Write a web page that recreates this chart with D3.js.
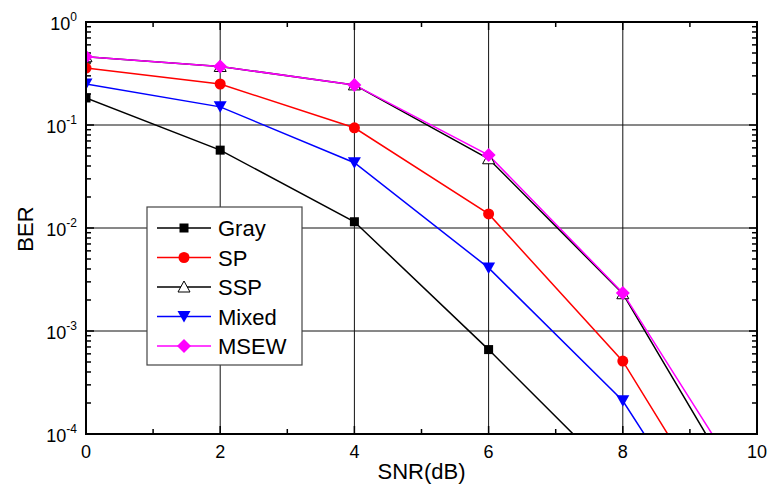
<!DOCTYPE html>
<html>
<head>
<meta charset="utf-8">
<script src="https://cdn.jsdelivr.net/npm/d3@7"></script>
<style>
  body { margin: 0; background: #fff; }
  text { font-family: "Liberation Sans", Arial, sans-serif; fill: #000; }
</style>
</head>
<body>
<div id="chart"></div>
<script>
// data
const snr = [0, 2, 4, 6, 8, 10];
const gray  = [0.183, 0.057, 0.0115, 0.00066, 0.000033];
const sp    = [0.357, 0.25, 0.094, 0.0137, 0.00051, 0.0000039];
const ssp   = [0.46, 0.37, 0.245, 0.047, 0.0023, 0.0000145];
const mixed = [0.25, 0.15, 0.043, 0.0041, 0.00021, 0.000002];
const msew  = [0.46, 0.37, 0.245, 0.051, 0.00234, 0.0000205];
const seriesNames = ["Gray", "SP", "SSP", "Mixed", "MSEW"];
const xTicks = [0, 2, 4, 6, 8, 10];
const yExps = [0, -1, -2, -3, -4];

const W = 768, H = 486;
const margin = {top: 22, right: 11, bottom: 52, left: 86};
const width = W - margin.left - margin.right,
  height = H - margin.top - margin.bottom;

const series = [
  {name: "Gray", vals: gray, color: "#000", sym: "square", fill: "#000"},
  {name: "SP", vals: sp, color: "#ff0000", sym: "circle", fill: "#ff0000"},
  {name: "SSP", vals: ssp, color: "#000", sym: "tri", fill: "#fff"},
  {name: "Mixed", vals: mixed, color: "#0000ff", sym: "tridown", fill: "#0000ff"},
  {name: "MSEW", vals: msew, color: "#ff00ff", sym: "diamond", fill: "#ff00ff"}
];

const svg = d3.select("#chart").append("svg")
  .attr("width", W)
  .attr("height", H);

const g = svg.append("g")
  .attr("transform", "translate(" + margin.left + "," + margin.top + ")");

var x = d3.scaleLinear().domain([0, 10]).range([0, width]);
var y = d3.scaleLog().domain([1e-4, 1]).range([height, 0]);

g.append("clipPath").attr("id", "clip")
  .append("rect").attr("width", width).attr("height", height);

// grid
g.selectAll(".gx").data([2, 4, 6, 8]).enter().append("line")
  .attr("x1", d => x(d)).attr("x2", d => x(d))
  .attr("y1", 0).attr("y2", height)
  .attr("stroke", "#111").attr("stroke-width", 1);
g.selectAll(".gy").data([-1, -2, -3]).enter().append("line")
  .attr("y1", d => y(Math.pow(10, d))).attr("y2", d => y(Math.pow(10, d)))
  .attr("x1", 0).attr("x2", width)
  .attr("stroke", "#111").attr("stroke-width", 1);

// ticks (inward, all four sides)
const minorX = d3.range(1, 10, 2);
const majorX = xTicks;
function tickX(vals, len) {
  vals.forEach(v => {
    g.append("line").attr("x1", x(v)).attr("x2", x(v))
      .attr("y1", height).attr("y2", height - len)
      .attr("stroke", "#000").attr("stroke-width", 1.5);
    g.append("line").attr("x1", x(v)).attr("x2", x(v))
      .attr("y1", 0).attr("y2", len)
      .attr("stroke", "#000").attr("stroke-width", 1.5);
  });
}
tickX(majorX, 8);
tickX(minorX, 5);

const yMinor = [];
for (let e = -4; e < 0; e++) for (let m = 2; m <= 9; m++) yMinor.push(m * Math.pow(10, e));
function tickY(vals, len) {
  vals.forEach(v => {
    g.append("line").attr("y1", y(v)).attr("y2", y(v))
      .attr("x1", 0).attr("x2", len)
      .attr("stroke", "#000").attr("stroke-width", 1.5);
    g.append("line").attr("y1", y(v)).attr("y2", y(v))
      .attr("x1", width).attr("x2", width - len)
      .attr("stroke", "#000").attr("stroke-width", 1.5);
  });
}
tickY(yExps.map(e => Math.pow(10, e)), 8);
tickY(yMinor, 5);

// symbols
function drawSym(sel, sym, fill, color) {
  if (sym === "square") {
    sel.append("rect").attr("x", -4.5).attr("y", -4.5).attr("width", 9).attr("height", 9)
      .attr("fill", fill);
  } else if (sym === "circle") {
    sel.append("circle").attr("r", 5.5).attr("fill", fill);
  } else if (sym === "tri") {
    sel.append("path").attr("d", "M0,-6L6,5L-6,5Z")
      .attr("fill", fill).attr("stroke", color).attr("stroke-width", 1);
  } else if (sym === "tridown") {
    sel.append("path").attr("d", "M-6.5,-5.5L6.5,-5.5L0,6Z").attr("fill", fill);
  } else if (sym === "diamond") {
    sel.append("path").attr("d", "M0,-7L7,0L0,7L-7,0Z").attr("fill", fill);
  }
}

const line = d3.line()
  .x((d, i) => x(snr[i]))
  .y(d => y(d));

const plot = g.append("g").attr("clip-path", "url(#clip)");
series.forEach(s => {
  plot.append("path")
    .datum(s.vals)
    .attr("d", line)
    .attr("fill", "none")
    .attr("stroke", s.color)
    .attr("stroke-width", 1.5);
});
series.forEach(s => {
  s.vals.forEach((v, i) => {
    const m = plot.append("g")
      .attr("transform", "translate(" + x(snr[i]) + "," + y(v) + ")");
    drawSym(m, s.sym, s.fill, s.color);
  });
});

// frame
g.append("rect").attr("width", width).attr("height", height)
  .attr("fill", "none").attr("stroke", "#000").attr("stroke-width", 2);

// tick labels
g.selectAll(".xl").data(xTicks).enter().append("text")
  .attr("x", d => x(d)).attr("y", height + 24)
  .attr("text-anchor", "middle")
  .attr("font-size", "18px")
  .text(d => d);

yExps.forEach(e => {
  const t = g.append("text")
    .attr("x", -9).attr("y", y(Math.pow(10, e)) + 8)
    .attr("text-anchor", "end")
    .attr("font-size", "18px");
  t.append("tspan").text("10");
  t.append("tspan").attr("dy", -9).attr("font-size", "12px").text(e);
});

// axis titles
svg.append("text")
  .attr("x", margin.left + width / 2)
  .attr("y", 479)
  .attr("text-anchor", "middle")
  .attr("font-size", "22px")
  .text("SNR(dB)");

svg.append("text")
  .attr("transform", "translate(33," + (margin.top + height / 2 + 1) + ") rotate(-90)")
  .attr("text-anchor", "middle")
  .attr("font-size", "22px")
  .text("BER");

// legend
const leg = svg.append("g").attr("transform", "translate(147,207)");
leg.append("rect").attr("width", 155).attr("height", 158)
  .attr("fill", "#fff").attr("stroke", "#444").attr("stroke-width", 1.2);
series.forEach((s, i) => {
  const ry = 21 + i * 29.5;
  leg.append("line").attr("x1", 10).attr("x2", 64)
    .attr("y1", ry).attr("y2", ry)
    .attr("stroke", s.color).attr("stroke-width", 1.5);
  const m = leg.append("g").attr("transform", "translate(37," + ry + ")");
  drawSym(m, s.sym, s.fill, s.color);
  leg.append("text").attr("x", 71).attr("y", ry + 8)
    .attr("font-size", "22px")
    .text(s.name);
});
</script>
</body>
</html>
